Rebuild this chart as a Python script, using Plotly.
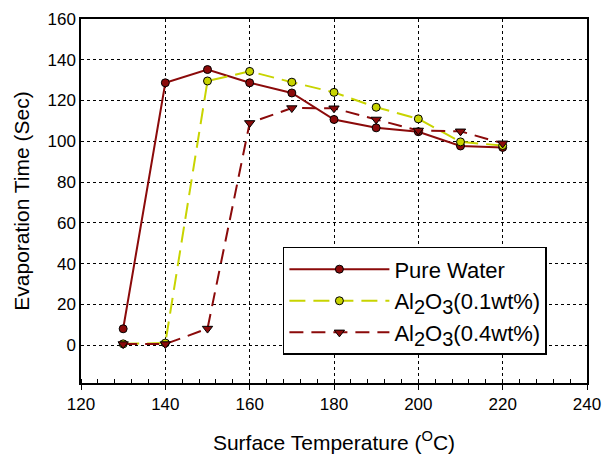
import plotly.graph_objects as go

temps = [130, 140, 150, 160, 170, 180, 190, 200, 210, 220]
pure_water = [8, 128.7, 135.2, 128.7, 123.7, 110.7, 106.6, 104.7, 97.7, 97]
al2o3_01 = [0.6, 1.0, 129.6, 134.3, 129, 124, 116.7, 111, 99.7, 97.9]
al2o3_04 = [0.5, 0.5, 8.1, 109, 116.3, 116.2, 110.7, 105.3, 104.9, 99]

sub = "<sub><span style='font-size:20px'>{}</span></sub>"
series_names = [
    "Pure Water",
    "Al" + sub.format("2") + "O" + sub.format("3") + "(0.1wt%)",
    "Al" + sub.format("2") + "O" + sub.format("3") + "(0.4wt%)",
]
x_ticks = [120, 140, 160, 180, 200, 220, 240]
y_ticks = [0, 20, 40, 60, 80, 100, 120, 140, 160]

dark_red = "#8B0A0A"
yellow = "#C8D400"

fig = go.Figure()
fig.add_trace(go.Scatter(
    x=temps, y=pure_water, name=series_names[0], mode="lines+markers",
    line=dict(color=dark_red, width=2),
    marker=dict(symbol="circle", size=8, color=dark_red, line=dict(color="black", width=1)),
))
fig.add_trace(go.Scatter(
    x=temps, y=al2o3_01, name=series_names[1], mode="lines+markers",
    line=dict(color=yellow, width=2, dash="16px,8px"),
    marker=dict(symbol="circle", size=8, color=yellow, line=dict(color="black", width=1)),
))
fig.add_trace(go.Scatter(
    x=temps, y=al2o3_04, name=series_names[2], mode="lines+markers",
    line=dict(color=dark_red, width=2, dash="14px,8px"),
    marker=dict(symbol="triangle-down", size=9, color=dark_red, line=dict(color="black", width=1)),
))

font_family = "Liberation Sans, Arial, sans-serif"

fig.update_layout(
    width=603, height=463,
    margin=dict(l=81, r=16, t=19, b=80, autoexpand=False),
    paper_bgcolor="white", plot_bgcolor="white",
    font=dict(family=font_family, size=17, color="black"),
    showlegend=True,
    legend=dict(
        x=0.399, y=0.374, xanchor="left", yanchor="top",
        bordercolor="black", borderwidth=1.5, bgcolor="white",
        font=dict(size=22, family=font_family),
        itemwidth=100, tracegroupgap=0,
    ),
    xaxis=dict(
        range=[120, 240], tickvals=x_ticks, ticktext=[str(v) for v in x_ticks],
        showline=True, linecolor="black", linewidth=1.5, mirror=True,
        ticks="outside", ticklen=5, tickcolor="black", tickwidth=1,
        minor=dict(dtick=4, tick0=120, ticks="inside", ticklen=4, tickcolor="black", tickwidth=1, showgrid=False),
        showgrid=True, gridcolor="black", griddash="dot", gridwidth=1,
        zeroline=False, automargin=False,
        title=dict(text="Surface Temperature (<sup>O</sup>C)", font=dict(size=21), standoff=22),
        tickfont=dict(size=17),
    ),
    yaxis=dict(
        range=[-18.6, 160], tickvals=y_ticks, ticktext=[str(v) for v in y_ticks],
        showline=True, linecolor="black", linewidth=1.5, mirror=True,
        ticks="", showgrid=True, gridcolor="black", griddash="dot", gridwidth=1,
        zeroline=False, automargin=False,
        title=dict(text="Evaporation Time (Sec)", font=dict(size=21), standoff=12),
        tickfont=dict(size=17),
    ),
)

fig.write_html(
    "out.html",
    config={"displayModeBar": False},
    post_script="document.body.style.margin='0';document.body.style.padding='0';",
)
